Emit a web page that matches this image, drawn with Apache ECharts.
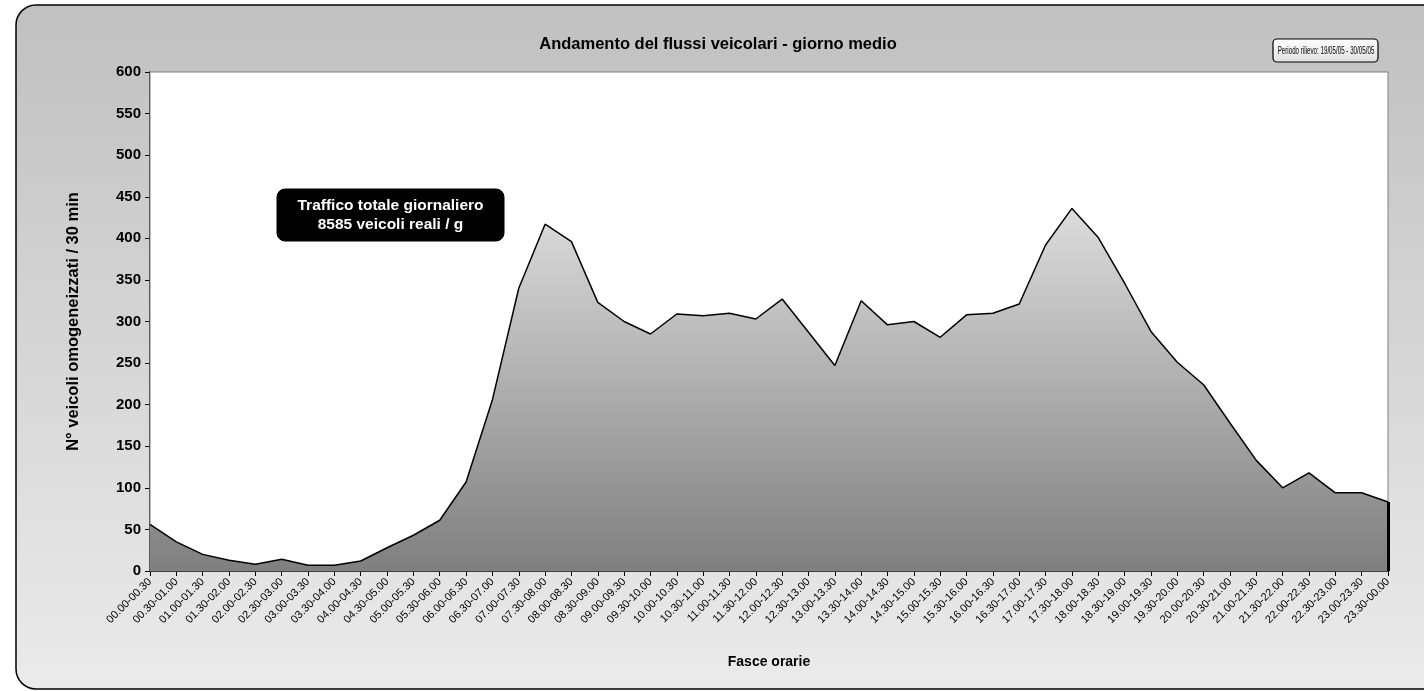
<!DOCTYPE html>
<html>
<head>
<meta charset="utf-8">
<script src="https://cdn.jsdelivr.net/npm/echarts@6/dist/echarts.min.js"></script>
<style>html,body{margin:0;padding:0;background:#fff;}#c{width:1424px;height:691px;}</style>
</head>
<body>
<div id="c"></div>
<script>
const categories = ["00.00-00.30","00.30-01.00","01.00-01.30","01.30-02.00","02.00-02.30","02.30-03.00","03.00-03.30","03.30-04.00","04.00-04.30","04.30-05.00","05.00-05.30","05.30-06.00","06.00-06.30","06.30-07.00","07.00-07.30","07.30-08.00","08.00-08.30","08.30-09.00","09.00-09.30","09.30-10.00","10.00-10.30","10.30-11.00","11.00-11.30","11.30-12.00","12.00-12.30","12.30-13.00","13.00-13.30","13.30-14.00","14.00-14.30","14.30-15.00","15.00-15.30","15.30-16.00","16.00-16.30","16.30-17.00","17.00-17.30","17.30-18.00","18.00-18.30","18.30-19.00","19.00-19.30","19.30-20.00","20.00-20.30","20.30-21.00","21.00-21.30","21.30-22.00","22.00-22.30","22.30-23.00","23.00-23.30","23.30-00.00"];
const values = [56,35,20,13,8,14,7,7,12,28,43,61,107,206,340,417,396,323,300,285,309,307,310,303,327,287,247,325,296,300,281,308,310,321,392,436,401,346,288,251,224,178,133,100,118,94,94,83];
const yTicks = {min:0, max:600, interval:50};
const titleText = "Andamento del flussi veicolari - giorno medio";
const periodText = "Periodo rilievo: 19/05/05 - 30/05/05";
const noteLines = ["Traffico totale giornaliero", "8585 veicoli reali / g"];
const xName = "Fasce orarie";
const yName = "N° veicoli omogeneizzati / 30 min";

const chart = echarts.init(document.getElementById('c'), null, {renderer:'canvas'});
const F = 'Arial, "Liberation Sans", sans-serif';
chart.setOption({
  backgroundColor: '#ffffff',
  animation: false,
  grid: {
    left: 150, right: 36, top: 72, bottom: 120,
    show: true, backgroundColor: '#ffffff', borderColor: '#808080', borderWidth: 1, z: 1
  },
  xAxis: {
    type: 'category', data: categories, boundaryGap: false,
    name: xName, nameLocation: 'middle', nameGap: 84,
    nameTextStyle: {fontFamily: F, fontSize: 14, fontWeight: 'bold', color: '#000'},
    axisLine: {lineStyle: {color: '#000', width: 1.5}},
    axisTick: {show: true, interval: 0, length: 5, lineStyle: {color: '#000'}},
    axisLabel: {interval: 0, rotate: 45, fontFamily: F, fontSize: 11, color: '#000', margin: 9},
    splitLine: {show: false}
  },
  yAxis: {
    type: 'value', min: yTicks.min, max: yTicks.max, interval: yTicks.interval,
    name: yName, nameLocation: 'middle', nameGap: 68, nameRotate: 90,
    nameTextStyle: {fontFamily: F, fontSize: 16.5, fontWeight: 'bold', color: '#000'},
    axisLine: {show: true, lineStyle: {color: '#000', width: 1.5}},
    axisTick: {show: true, length: 5, lineStyle: {color: '#000'}},
    axisLabel: {fontFamily: F, fontSize: 15, fontWeight: 'bold', color: '#000', margin: 9},
    splitLine: {show: true, lineStyle: {color: '#000', width: 1}}
  },
  series: [{
    type: 'line', data: values, symbol: 'none', z: 3,
    lineStyle: {color: '#000', width: 1.5},
    areaStyle: {
      opacity: 1,
      color: new echarts.graphic.LinearGradient(0, 0, 0, 1, [
        {offset: 0, color: '#dcdcdc'},
        {offset: 1, color: '#7f7f7f'}
      ])
    },
    markLine: {
      silent: true, symbol: ['none','none'], label: {show: false},
      lineStyle: {color: '#000', width: 3, type: 'solid'},
      data: [[{coord: [values.length - 1, 0]}, {coord: [values.length - 1, values[values.length - 1]]}]]
    }
  }],
  graphic: [
    {
      type: 'rect', z: -100, silent: true,
      shape: {x: 16, y: 5, width: 1440, height: 684, r: 20},
      style: {
        fill: new echarts.graphic.LinearGradient(0, 0, 0, 1, [
          {offset: 0, color: '#c0c0c0'},
          {offset: 1, color: '#ebebeb'}
        ]),
        stroke: '#000', lineWidth: 1.5
      }
    },
    {
      type: 'text', z: 101, silent: true,
      style: {x: 718, y: 44, text: titleText, fill: '#000', font: 'bold 16.5px ' + F, align: 'center', verticalAlign: 'middle'}
    },
    {
      type: 'rect', z: 100, silent: true,
      shape: {x: 1273, y: 39, width: 105, height: 23, r: 4},
      style: {
        fill: new echarts.graphic.LinearGradient(0, 0, 0, 1, [
          {offset: 0, color: '#ffffff'},
          {offset: 1, color: '#e0e0e0'}
        ]),
        stroke: '#000', lineWidth: 1.2
      }
    },
    {
      type: 'text', z: 101, silent: true,
      x: 1326, y: 50.5, scaleX: 0.54, scaleY: 1,
      style: {x: 0, y: 0, text: periodText, fill: '#000', font: '11.5px ' + F, align: 'center', verticalAlign: 'middle'}
    },
    {
      type: 'rect', z: 100, silent: true,
      shape: {x: 277, y: 189, width: 227, height: 52, r: 8},
      style: {fill: '#000', stroke: '#000'}
    },
    {
      type: 'text', z: 101, silent: true,
      style: {x: 390.5, y: 206, text: noteLines[0], fill: '#fff', font: 'bold 15.5px ' + F, align: 'center', verticalAlign: 'middle'}
    },
    {
      type: 'text', z: 101, silent: true,
      style: {x: 390.5, y: 225, text: noteLines[1], fill: '#fff', font: 'bold 15.5px ' + F, align: 'center', verticalAlign: 'middle'}
    }
  ]
});
</script>
</body>
</html>
